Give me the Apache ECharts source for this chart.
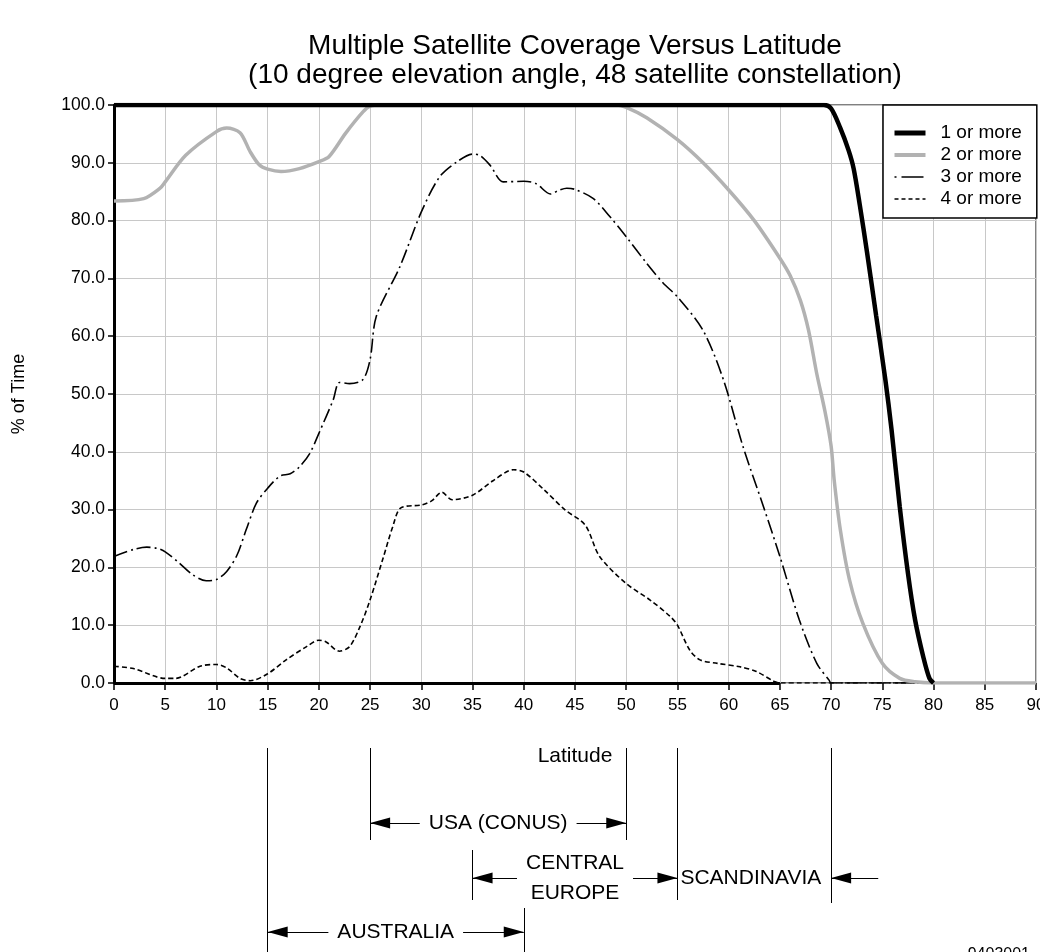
<!DOCTYPE html>
<html>
<head>
<meta charset="utf-8">
<title>Multiple Satellite Coverage Versus Latitude</title>
<script src="https://cdn.jsdelivr.net/npm/echarts@6/dist/echarts.min.js"></script>
<style>
    html, body { margin: 0; padding: 0; background: #fff; }
    #main { width: 1040px; height: 952px; }
</style>
</head>
<body>
<div id="main"></div>
<script>
// values (latitude in degrees, coverage in % of time)
var lat_1 = [0, 69.3, 70, 70.9, 71.7, 72.2, 72.8, 73.5, 74.4, 75.3, 75.9, 76.7, 77.5, 78.2, 79, 79.6, 80];
var cov_1 = [100, 100, 99.4, 96, 92.2, 89, 82.7, 74.6, 63.5, 52.4, 43.8, 30.5, 19, 10.9, 4.5, 0.8, 0];

var lat_2 = [0, 2.9, 4.5, 5, 7, 10, 11, 12.3, 13.3, 14.2, 15, 16.3, 18.1, 20, 21, 22.6, 24.3, 25, 26, 49, 50, 52, 55, 57.5, 60, 62.5, 65, 66, 67, 67.8, 68.6, 69.4, 70, 70.3, 70.9, 71.8, 73.1, 75, 76.7, 78.2, 80, 90];
var cov_2 = [83.4, 83.8, 85.6, 86.7, 91.3, 95.4, 96, 95.2, 91.9, 89.6, 88.9, 88.5, 89, 90.2, 91.1, 95.1, 98.8, 99.8, 100, 100, 99.6, 97.8, 94, 90, 85.3, 80, 73.5, 70.5, 66.2, 61, 53.5, 47, 41, 35.1, 26.5, 17.8, 10.3, 3.4, 0.8, 0.2, 0, 0];

var lat_3 = [0, 1.9, 3.2, 4.2, 5, 6.4, 7.7, 9, 10, 11, 12, 12.9, 13.9, 15, 16.2, 17.2, 18.1, 19.1, 20, 21.4, 22, 23, 24.3, 25, 25.6, 27.9, 30, 31.8, 33.5, 35, 35.7, 36.7, 38, 40, 41.2, 42.6, 43.5, 44.2, 45, 46.8, 48.4, 50, 52, 53.6, 55, 57.5, 59.5, 61.4, 63.4, 65, 66.9, 68.6, 69.8, 70, 90];
var cov_3 = [21.9, 23.1, 23.5, 23.3, 22.7, 20.7, 18.7, 17.7, 17.9, 19.3, 22.1, 26.5, 31.1, 33.7, 35.8, 36.2, 37.4, 39.7, 43.2, 49, 52, 51.8, 52.5, 56, 63.4, 72, 81.5, 87.6, 90.2, 91.5, 91.3, 89.6, 86.7, 86.8, 86.4, 84.6, 85.3, 85.6, 85.4, 83.8, 80.7, 77.2, 72.6, 69.2, 66.8, 61, 52.4, 40.9, 30.5, 21.9, 10.9, 3.4, 0.5, 0, 0];

var lat_4 = [0, 1.9, 5, 6, 8.4, 10, 11, 12.3, 13.3, 15, 16.8, 18.8, 20, 20.7, 22, 23, 24, 25, 26.3, 27.2, 28, 30, 31, 32, 33, 35, 37, 39, 40, 42, 44, 46, 47.4, 50, 52.3, 54.3, 55, 56.2, 57.2, 58.9, 61.1, 62.7, 64.4, 65, 90];
var cov_4 = [2.9, 2.5, 0.8, 0.8, 2.9, 3.2, 2.6, 0.8, 0.4, 1.6, 4, 6.3, 7.4, 7.1, 5.5, 6.3, 9.7, 14.4, 21.8, 27, 30.3, 30.8, 31.5, 33, 31.7, 32.5, 35, 36.9, 36.5, 33.4, 30, 27.3, 21.9, 17.2, 14.4, 11.5, 10, 5.7, 4, 3.4, 2.8, 2, 0.3, 0, 0];

var series_names = ['1 or more', '2 or more', '3 or more', '4 or more'];
var base_line_lat = [0, 65];   // solid part of the zero line

// region spans under the axis (latitude from / to, row)
var region_names = ['USA (CONUS)', 'CENTRAL\nEUROPE', 'AUSTRALIA'];
var region_from = [25, 35, 15];
var region_to = [50, 55, 40];
var region_row = [75, 130, 184];
var scandinavia_from = 55;
var scandinavia_to = 70;
var scandinavia_arrow_start = 74.6;
// boundary marks (latitude, top row, bottom row)
var bound_lat = [15, 25, 50, 55, 70, 35, 40];
var bound_top = [0, 0, 0, 0, 0, 102, 157];
var bound_bottom = [204, 92, 92, 152, 155, 152, 204];

var font = "'Liberation Sans', Arial, sans-serif";
var arrow_head = 'path://M5,20 L10,40 L0,40 Z M5,0';

function pairs(xs, ys) {
    var out = [];
    for (var i = 0; i < xs.length; i++) {
        out.push([xs[i], ys[i]]);
    }
    return out;
}

var annot_lines = [];
for (var i = 0; i < bound_lat.length; i++) {
    annot_lines.push([
        {coord: [bound_lat[i], bound_top[i]], symbol: 'none'},
        {coord: [bound_lat[i], bound_bottom[i]], symbol: 'none'}
    ]);
}
for (var j = 0; j < region_names.length; j++) {
    annot_lines.push([
        {coord: [region_from[j], region_row[j]], symbol: arrow_head, symbolSize: [11, 40],
            label: {show: true, formatter: region_names[j]}},
        {coord: [region_to[j], region_row[j]], symbol: arrow_head, symbolSize: [11, 40]}
    ]);
}
annot_lines.push([
    {coord: [scandinavia_arrow_start, region_row[1]], symbol: 'none'},
    {coord: [scandinavia_to, region_row[1]], symbol: arrow_head, symbolSize: [11, 40]}
]);

var chart = echarts.init(document.getElementById('main'));
var option = {
    animation: false,
    backgroundColor: '#fff',
    title: {
        text: 'Multiple Satellite Coverage Versus Latitude\n(10 degree elevation angle, 48 satellite constellation)',
        left: 575,
        top: 32,
        padding: 0,
        textAlign: 'center',
        textStyle: {fontFamily: font, fontSize: 28, fontWeight: 'normal', color: '#000', lineHeight: 29}
    },
    legend: {
        data: [
            {name: series_names[0], lineStyle: {width: 5, color: '#000'}},
            {name: series_names[1], lineStyle: {width: 4, color: '#b2b2b2'}},
            {name: series_names[2], lineStyle: {width: 1.6, color: '#000', type: [2, 5, 22, 5]}},
            {name: series_names[3], lineStyle: {width: 1.6, color: '#000', type: [4, 3]}}
        ],
        orient: 'vertical',
        left: 883,
        top: 105,
        padding: [18, 15, 9, 9],
        itemGap: 2,
        itemWidth: 31,
        itemHeight: 14,
        backgroundColor: '#fff',
        borderColor: '#000',
        borderWidth: 1.5,
        borderRadius: 0,
        itemStyle: {opacity: 0},
        textStyle: {fontFamily: font, fontSize: 19, lineHeight: 20, color: '#000', padding: [0, 0, 0, 10]}
    },
    grid: [
        {left: 114, right: 4, top: 105, bottom: 269, show: true, borderColor: '#000', borderWidth: 1,
            backgroundColor: 'transparent', containLabel: false, outerBoundsMode: 'none'},
        {left: 114, right: 4, top: 748, bottom: 0, containLabel: false, outerBoundsMode: 'none'}
    ],
    xAxis: [
        {
            type: 'value', gridIndex: 0, min: 0, max: 90, interval: 5,
            name: 'Latitude', nameLocation: 'middle', nameGap: 63,
            nameTextStyle: {fontFamily: font, fontSize: 21, color: '#000'},
            axisLine: {show: false},
            axisTick: {show: true, length: 7, lineStyle: {color: '#000', width: 1.5}},
            axisLabel: {fontFamily: font, fontSize: 17, color: '#000', margin: 14},
            splitLine: {show: true, lineStyle: {color: '#c8c8c8', width: 1}}
        },
        {type: 'value', gridIndex: 1, min: 0, max: 90, show: false}
    ],
    yAxis: [
        {
            type: 'value', gridIndex: 0, min: 0, max: 100, interval: 10,
            name: '% of Time', nameLocation: 'middle', nameGap: 86, nameRotate: 90,
            nameTextStyle: {fontFamily: font, fontSize: 18, color: '#000'},
            axisLine: {show: true, lineStyle: {color: '#000', width: 3}},
            axisTick: {show: true, length: 6, lineStyle: {color: '#000', width: 1.5}},
            axisLabel: {fontFamily: font, fontSize: 17.5, color: '#000', margin: 9,
                formatter: function (v) { return v.toFixed(1); }},
            splitLine: {show: true, lineStyle: {color: '#c8c8c8', width: 1}}
        },
        {type: 'value', gridIndex: 1, min: 0, max: 204, inverse: true, show: false}
    ],
    series: [
        {
            name: series_names[0], type: 'line', z: 6, smooth: 0.3, symbol: 'none',
            data: pairs(lat_1, cov_1),
            lineStyle: {color: '#000', width: 4.5},
            itemStyle: {color: '#000'},
            markLine: {
                silent: true, symbol: 'none', animation: false,
                label: {show: false},
                lineStyle: {color: '#000', width: 3, type: 'solid'},
                data: [[{coord: [base_line_lat[0], 0]}, {coord: [base_line_lat[1], 0]}]]
            }
        },
        {
            name: series_names[1], type: 'line', z: 5, smooth: 0.3, symbol: 'none',
            data: pairs(lat_2, cov_2),
            lineStyle: {color: '#b2b2b2', width: 3.5},
            itemStyle: {color: '#b2b2b2'}
        },
        {
            name: series_names[2], type: 'line', z: 4, smooth: 0.3, symbol: 'none',
            data: pairs(lat_3, cov_3),
            lineStyle: {color: '#000', width: 1.6, type: [14, 4, 2, 4]},
            itemStyle: {color: '#000'}
        },
        {
            name: series_names[3], type: 'line', z: 4, smooth: 0.3, symbol: 'none',
            data: pairs(lat_4, cov_4),
            lineStyle: {color: '#000', width: 1.6, type: [5, 3]},
            itemStyle: {color: '#000'}
        },
        {
            name: 'regions', type: 'scatter', xAxisIndex: 1, yAxisIndex: 1,
            symbolSize: 0, silent: true,
            itemStyle: {opacity: 1},
            data: [[scandinavia_from, region_row[1]]],
            label: {show: true, position: 'right', distance: 3, formatter: 'SCANDINAVIA',
                fontFamily: font, fontSize: 21, color: '#000', opacity: 1},
            markLine: {
                silent: true, animation: false,
                lineStyle: {color: '#000', width: 1, type: 'solid'},
                label: {show: false, position: 'insideMiddle', fontFamily: font, fontSize: 21,
                    color: '#000', backgroundColor: '#fff', padding: [0, 9], lineHeight: 30},
                data: annot_lines
            }
        }
    ],
    graphic: [
        {
            type: 'text', right: 10, top: 947, silent: true,
            style: {text: '9403001', fontFamily: font, fontSize: 16, fill: '#000'}
        }
    ]
};
chart.setOption(option);
window.addEventListener('resize', function () {
    chart.resize();
});
</script>
</body>
</html>
